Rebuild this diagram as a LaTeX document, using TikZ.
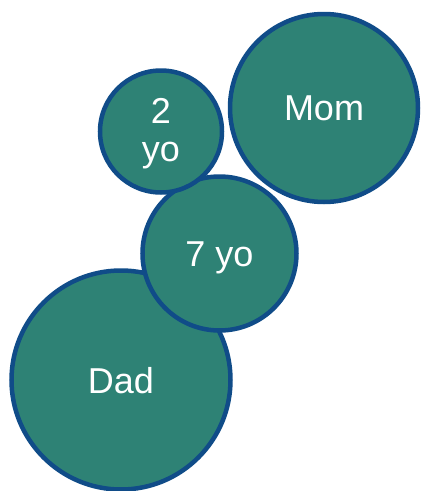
\documentclass[tikz,border=0pt]{standalone}
\usepackage{fontspec}
\setmainfont{Liberation Sans}
\definecolor{bubblefill}{RGB}{46,130,117}
\definecolor{bubbleedge}{RGB}{16,76,136}
\begin{document}
\begin{tikzpicture}[x=1pt,y=-1pt,
  bubble/.style={circle, draw=bubbleedge, fill=bubblefill, line width=4.5pt,
    inner sep=0pt},
  label text/.style={text=white, inner sep=0pt, align=center,
    font=\fontsize{36}{38}\selectfont}]
\useasboundingbox (0,0) rectangle (423,491);
\node[bubble, minimum size=219pt] (dad) at (121,380) {};
\node[label text] (dadlabel) at ([yshift=-0.5pt]dad.center) {Dad};
\node[bubble, minimum size=154pt] (seven) at (219.5,253.5) {};
\node[label text] (sevenlabel) at ([yshift=-4.5pt]seven.center) {7 yo};
\node[bubble, minimum size=122pt] (two) at (161,131.5) {};
\node[label text] (twolabel) at ([yshift=-2.5pt]two.center) {2\\yo};
\node[bubble, minimum size=188pt] (mom) at (324,108) {};
\node[label text] (momlabel) at (mom.center) {Mom};
\end{tikzpicture}
\end{document}
